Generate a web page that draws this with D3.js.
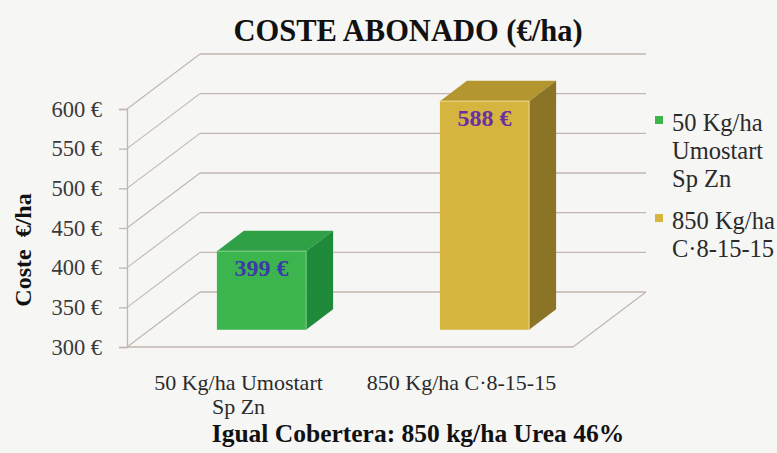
<!DOCTYPE html>
<html>
<head>
<meta charset="utf-8">
<script src="https://cdn.jsdelivr.net/npm/d3@7"></script>
</head>
<body style="margin:0;background:#f6f6f4">
<div id="chart"></div>
<script>
// chart data
const categories = ['50 Kg/ha Umostart Sp Zn', '850 Kg/ha C·8-15-15'];
const categoryLines = [['50 Kg/ha Umostart', 'Sp Zn'], ['850 Kg/ha C·8-15-15']];
const values = [399, 588];
const valueLabels = ['399 €', '588 €'];
const yTicks = [300, 350, 400, 450, 500, 550, 600];
const legendLines = [['50 Kg/ha', 'Umostart', 'Sp Zn'], ['850 Kg/ha', 'C·8-15-15']];

const width = 777, height = 453;
// front plane of the plot and the 3d depth offset
const plotLeft = 127, plotRight = 573, plotTop = 109, plotBottom = 347;
const DX = 73, DY = -55;
const f1 = 0.315, f2 = 0.685; // bar front / back depth fraction

const faces = [
  {front: '#3db54f', top: '#2fa046', side: '#1f8a3a', edge: '#7fd08a', label: '#3a3aa8'},
  {front: '#d6b440', top: '#b49630', side: '#8c7426', edge: '#f0dc90', label: '#6a2fa0'}
];

const svg = d3.select('#chart').append('svg')
  .attr('width', width)
  .attr('height', height)
  .style('display', 'block');

svg.append('rect').attr('width', width).attr('height', height).attr('fill', '#f6f6f4');

const root = svg.append('g');

const y = d3.scaleLinear().domain([300, 600]).range([plotBottom, plotTop]);
const x = d3.scaleBand().domain(categories).range([plotLeft, plotRight])
  .paddingInner(0.6).paddingOuter(0.3);

const gridColor = '#c2b6ae';

// back wall gridlines
root.append('g').selectAll('line')
  .data(yTicks)
  .join('line')
  .attr('x1', plotLeft + DX).attr('x2', plotRight + DX)
  .attr('y1', d => y(d) + DY).attr('y2', d => y(d) + DY)
  .attr('stroke', gridColor).attr('stroke-width', 1.3);

// left wall diagonals
root.append('g').selectAll('line')
  .data(yTicks)
  .join('line')
  .attr('x1', plotLeft).attr('x2', plotLeft + DX)
  .attr('y1', d => y(d)).attr('y2', d => y(d) + DY)
  .attr('stroke', gridColor).attr('stroke-width', 1.1);

// floor edges
root.append('line')
  .attr('x1', plotLeft).attr('x2', plotRight)
  .attr('y1', y(300)).attr('y2', y(300))
  .attr('stroke', gridColor).attr('stroke-width', 1.3);
root.append('line')
  .attr('x1', plotRight).attr('x2', plotRight + DX)
  .attr('y1', y(300)).attr('y2', y(300) + DY)
  .attr('stroke', gridColor).attr('stroke-width', 1.1);

// y axis
const yAxis = d3.axisLeft(y)
  .tickValues(yTicks)
  .tickSize(8)
  .tickPadding(17)
  .tickFormat(d => d + ' €');
const yAxisG = root.append('g')
  .attr('transform', `translate(${plotLeft},0)`)
  .call(yAxis);
yAxisG.select('.domain').attr('stroke', gridColor).attr('stroke-width', 1.3);
yAxisG.selectAll('.tick line').attr('stroke', gridColor).attr('stroke-width', 1.3);
yAxisG.selectAll('.tick text')
  .style('font-size', '22.5px')
  .attr('fill', '#3a3a3a');

// bars
const bw = x.bandwidth();
const dd = f2 - f1;
const bars = root.append('g').selectAll('g')
  .data(categories)
  .join('g');

bars.each(function(c, i) {
  const g = d3.select(this);
  const x0 = x(c) + f1 * DX;
  const x1 = x0 + bw;
  const yT = y(values[i]) + f1 * DY;
  const yB = y(300) + f1 * DY;
  const ddx = dd * DX, ddy = dd * DY;
  const col = faces[i];
  g.append('polygon')
    .attr('points', [[x0, yT], [x1, yT], [x1, yB], [x0, yB]].join(' '))
    .attr('fill', col.front);
  g.append('polygon')
    .attr('points', [[x0, yT], [x1, yT], [x1 + ddx, yT + ddy], [x0 + ddx, yT + ddy]].join(' '))
    .attr('fill', col.top);
  g.append('polygon')
    .attr('points', [[x1, yT], [x1 + ddx, yT + ddy], [x1 + ddx, yB + ddy], [x1, yB]].join(' '))
    .attr('fill', col.side);
  g.append('polyline')
    .attr('points', [[x0, yT], [x1, yT], [x1, yB]].join(' '))
    .attr('fill', 'none')
    .attr('stroke', col.edge).attr('stroke-width', 1.2).attr('opacity', 0.8);
  g.append('text')
    .attr('x', (x0 + x1) / 2)
    .attr('y', yT + 25)
    .attr('text-anchor', 'middle')
    .style('font-size', '24px')
    .style('font-weight', 'bold')
    .attr('fill', col.label)
    .text(valueLabels[i]);
});

// category labels
root.append('g').selectAll('text')
  .data(categories)
  .join('text')
  .attr('x', d => x(d) + bw / 2)
  .attr('y', 390)
  .attr('text-anchor', 'middle')
  .style('font-size', '22px')
  .attr('fill', '#2a2a2a')
  .each(function(d, i) {
    d3.select(this).selectAll('tspan')
      .data(categoryLines[i])
      .join('tspan')
      .attr('x', x(d) + bw / 2)
      .attr('dy', (t, j) => j === 0 ? 0 : 24)
      .text(t => t);
  });

// title
root.append('text')
  .attr('x', 408).attr('y', 41)
  .attr('text-anchor', 'middle')
  .style('font-size', '30.5px')
  .style('font-weight', 'bold')
  .attr('fill', '#111')
  .text('COSTE ABONADO (€/ha)');

// y axis title
root.append('text')
  .attr('transform', 'translate(31,250) rotate(-90)')
  .attr('text-anchor', 'middle')
  .style('font-size', '24px')
  .style('font-weight', 'bold')
  .attr('fill', '#111')
  .style('white-space', 'pre')
  .text('Coste  €/ha');

// bottom note
root.append('text')
  .attr('x', 418).attr('y', 442)
  .attr('text-anchor', 'middle')
  .style('font-size', '25.5px')
  .style('font-weight', 'bold')
  .attr('fill', '#111')
  .text('Igual Cobertera: 850 kg/ha Urea 46%');

// legend
const legendTops = [131, 229];
const legend = root.append('g').selectAll('g')
  .data(legendLines)
  .join('g');
legend.append('rect')
  .attr('x', 655).attr('y', (d, i) => legendTops[i] - 15)
  .attr('width', 8).attr('height', 8)
  .attr('fill', (d, i) => faces[i].front);
legend.append('text')
  .style('font-size', '24.5px')
  .attr('fill', '#2a2a2a')
  .each(function(lines, i) {
    d3.select(this).selectAll('tspan')
      .data(lines)
      .join('tspan')
      .attr('x', 672)
      .attr('y', (t, j) => legendTops[i] + j * 28)
      .text(t => t);
  });

// serif face for every text, inline so nothing overrides it
root.selectAll('text').style('font-family', "'Liberation Serif', serif");
</script>
</body>
</html>
